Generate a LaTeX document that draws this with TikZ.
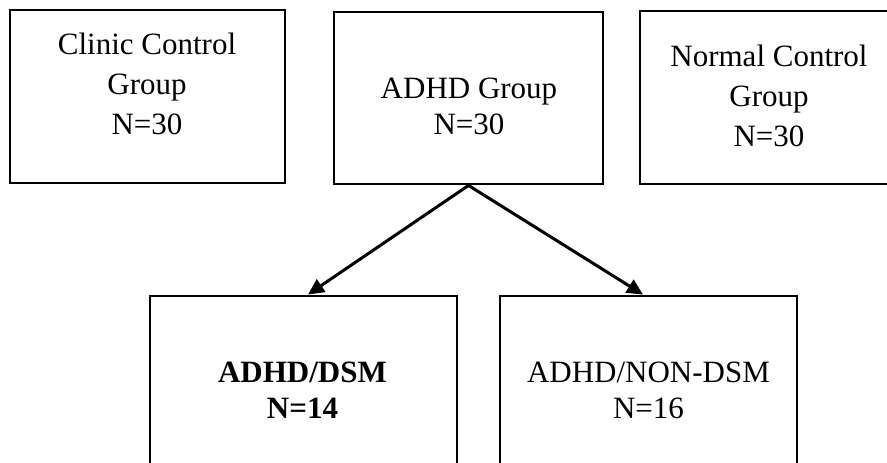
\documentclass[tikz,border=0pt]{standalone}
\usepackage{fontspec}
\setmainfont{Liberation Serif}
\usetikzlibrary{arrows.meta,positioning}

\begin{document}
\begin{tikzpicture}[x=1pt, y=-1pt, every node/.style={font=\fontsize{31}{36}\selectfont}, grpbox/.style={draw=black,line width=2.9pt,inner sep=0pt}, grptxt/.style={align=center,inner sep=0pt}, arr/.style={-{Triangle[length=16pt,width=15pt]},line width=3pt}]
\useasboundingbox (0,0) rectangle (887,463);
\clip (0,0) rectangle (887,463);
% top row
\node[grpbox,minimum width=275,minimum height=173] (clinicbox) at (147.5,96.5) {};
\node[grpbox,minimum width=269,minimum height=172] (adhdbox) at (468.5,98) {};
\node[grpbox,minimum width=258,minimum height=173] (normalbox) at (769,97.5) {};
\node[grptxt,font=\fontsize{31}{40}\selectfont] (clinic) at (147,84) {Clinic Control\\Group\\N=30};
\node[grptxt] (adhd) at (469,106) {ADHD Group\\N=30};
\node[grptxt,font=\fontsize{31}{40}\selectfont] (normal) at (769,95.5) {Normal Control\\Group\\N=30};
% subgroups
\node[grpbox,minimum width=307,minimum height=200] (dsmbox) at (303.5,396) {};
\node[grpbox,minimum width=297,minimum height=200] (nondsmbox) at (648.5,396) {};
\node[grptxt,font=\fontsize{31}{36}\selectfont\bfseries] (dsm) at (302.5,390) {ADHD/DSM\\N=14};
\node[grptxt] (nondsm) at (648.5,390) {ADHD/NON-DSM\\N=16};
\draw[arr] (adhdbox.south) -- ([xshift=4.5pt]dsmbox.north);
\draw[arr] (adhdbox.south) -- ([xshift=-5.5pt]nondsmbox.north);
\end{tikzpicture}
\end{document}
